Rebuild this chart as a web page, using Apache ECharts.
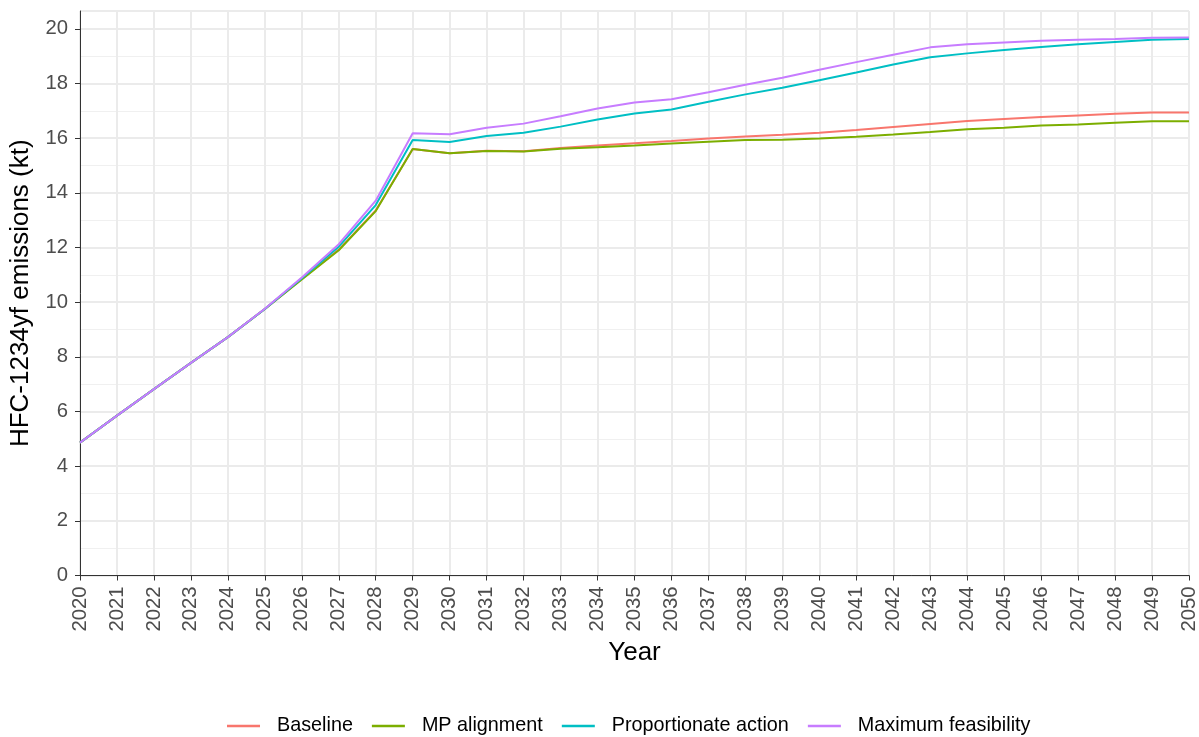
<!DOCTYPE html>
<html>
<head>
<meta charset="utf-8">
<script src="https://cdn.jsdelivr.net/npm/echarts@6/dist/echarts.min.js"></script>
<style>
html,body{margin:0;padding:0;background:#fff;}
#chart{width:1199px;height:737px;}
</style>
</head>
<body>
<div id="chart"></div>
<script>
const years = [2020,2021,2022,2023,2024,2025,2026,2027,2028,2029,2030,2031,2032,2033,2034,2035,2036,2037,2038,2039,2040,2041,2042,2043,2044,2045,2046,2047,2048,2049,2050];
const baseline = [4.86,5.85,6.82,7.78,8.72,9.75,10.85,11.92,13.35,15.6,15.45,15.54,15.52,15.64,15.73,15.81,15.89,15.99,16.06,16.12,16.2,16.3,16.41,16.52,16.63,16.7,16.77,16.83,16.89,16.94,16.94];
const mpAlignment = [4.86,5.85,6.82,7.78,8.72,9.75,10.83,11.9,13.33,15.6,15.45,15.53,15.51,15.61,15.67,15.73,15.8,15.87,15.93,15.94,15.99,16.05,16.13,16.22,16.32,16.38,16.46,16.5,16.56,16.62,16.62];
const proportionate = [4.86,5.85,6.82,7.78,8.72,9.75,10.87,12.03,13.55,15.93,15.86,16.08,16.2,16.42,16.68,16.9,17.05,17.33,17.6,17.84,18.12,18.4,18.69,18.96,19.1,19.22,19.33,19.43,19.52,19.6,19.63];
const maxFeasibility = [4.86,5.85,6.82,7.78,8.72,9.76,10.9,12.12,13.71,16.18,16.14,16.38,16.53,16.8,17.08,17.3,17.42,17.68,17.95,18.21,18.5,18.78,19.05,19.32,19.43,19.5,19.56,19.6,19.63,19.67,19.68];
const seriesNames = ['Baseline','MP alignment','Proportionate action','Maximum feasibility'];
const seriesColors = ['#F8766D','#7CAE00','#00BFC4','#C77CFF'];
const yTicks = [0,2,4,6,8,10,12,14,16,18,20];

const allSeries = [baseline, mpAlignment, proportionate, maxFeasibility];
const FONT = 'Liberation Sans, Arial, sans-serif';

const chart = echarts.init(document.getElementById('chart'), null, {renderer:'canvas'});
chart.setOption({
  animation:false,
  backgroundColor:'#ffffff',
  textStyle:{fontFamily:FONT},
  grid:{left:79, right:10, top:11, bottom:161.5, show:true, borderColor:'#333333', borderWidth:1, backgroundColor:'transparent', containLabel:false},
  legend:{
    data:seriesNames,
    left:227, top:716, padding:0,
    icon:'rect', itemWidth:33, itemHeight:2.5, itemGap:19,
    textStyle:{fontSize:19.8, color:'#000', fontFamily:FONT, padding:[0,0,0,12]}
  },
  xAxis:{
    type:'value', min:2020, max:2050, interval:1,
    name:'Year', nameLocation:'middle', nameGap:63,
    nameTextStyle:{fontSize:26, color:'#000', fontFamily:FONT},
    axisLine:{show:true, lineStyle:{color:'#333333', width:1}},
    axisTick:{show:true, length:5, lineStyle:{color:'#333333', width:1}},
    axisLabel:{rotate:90, margin:11, fontSize:20.3, color:'#4D4D4D', fontFamily:FONT, formatter:v=>String(v)},
    splitLine:{show:true, lineStyle:{color:'#EBEBEB', width:2}}
  },
  yAxis:{
    type:'value', min:0, max:20.65, interval:2,
    name:'HFC-1234yf emissions (kt)', nameLocation:'middle', nameGap:46,
    nameTextStyle:{fontSize:26, color:'#000', fontFamily:FONT},
    axisLine:{show:true, lineStyle:{color:'#333333', width:1}},
    axisTick:{show:true, length:5, lineStyle:{color:'#333333', width:1}},
    axisLabel:{margin:12, fontSize:20.3, color:'#4D4D4D', fontFamily:FONT, showMaxLabel:false,
      formatter:v=> yTicks.indexOf(Math.round(v*100)/100) >= 0 ? String(v) : ''},
    splitLine:{show:true, lineStyle:{color:'#EBEBEB', width:2}},
    minorTick:{show:false, splitNumber:2},
    minorSplitLine:{show:true, lineStyle:{color:'#F0F0F0', width:1.2}}
  },
  series: seriesNames.map((n,i)=>({
    name:n, type:'line', symbol:'none', smooth:false,
    data: years.map((y,j)=>[y, allSeries[i][j]]),
    lineStyle:{color:seriesColors[i], width:2},
    itemStyle:{color:seriesColors[i]},
    z:2+i
  }))
});
</script>
</body>
</html>
